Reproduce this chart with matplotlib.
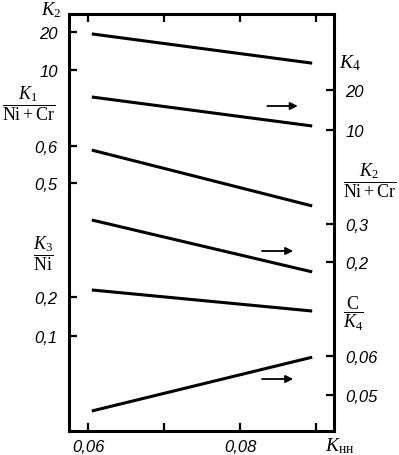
import matplotlib.pyplot as plt

plt.rcParams['mathtext.fontset'] = 'custom'
plt.rcParams['mathtext.rm'] = 'Liberation Serif'
plt.rcParams['mathtext.it'] = 'Liberation Serif:italic'
plt.rcParams['mathtext.bf'] = 'Liberation Serif:bold'

# x axis: K_нн
k_nn = [0.0605, 0.0895]
x_ticks = [0.06, 0.07, 0.08, 0.09]
x_labels = ['0,06', '', '0,08', '']

# left scales
k2 = [19.5, 11.8]
k1_nicr = [0.589, 0.438]
k3_ni = [0.218, 0.164]
# right scales
k4 = [18.25, 11.0]
k2_nicr = [0.3105, 0.174]
c_k4 = [0.0459, 0.0597]

# arrows (x start, x end, y) pointing to right-hand scale
arrow_k4 = [0.0836, 0.0876, 16.0]
arrow_k2_nicr = [0.0829, 0.0870, 0.229]
arrow_c_k4 = [0.0829, 0.0870, 0.0541]

W, H = 399, 456
fig = plt.figure(figsize=(W / 100, H / 100), dpi=100)
pos = [69 / W, 24 / H, 265 / W, 417 / H]
ax = fig.add_axes(pos)

LW = 2.2
tick_font = dict(family='Liberation Sans', style='italic', size=12)

for s in ax.spines.values():
    s.set_linewidth(LW)
ax.set_xlim(0.0575, 0.09237)
ax.set_ylim(0, 1)
ax.set_yticks([])
ax.set_xticks(x_ticks)
ax.set_xticklabels(x_labels, fontdict=tick_font)
ax.tick_params(axis='x', direction='in', length=6, width=1.6, top=True, pad=6)


def scale_axes(side, lim, ticks, labels):
    a = fig.add_axes(pos, sharex=ax)
    a.patch.set_visible(False)
    for s in a.spines.values():
        s.set_visible(False)
    a.tick_params(axis='x', bottom=False, labelbottom=False)
    a.set_ylim(*lim)
    a.set_yticks(ticks)
    a.set_yticklabels(labels, fontdict=tick_font)
    if side == 'right':
        a.yaxis.tick_right()
    a.tick_params(axis='y', direction='in', length=6, width=1.6, pad=8)
    return a


ax_k2 = scale_axes('left', (-85.0, 24.74), [20, 10], ['20', '10'])
ax_k1 = scale_axes('left', (-0.1703, 0.9568), [0.6, 0.5], ['0,6', '0,5'])
ax_k3 = scale_axes('left', (-0.1436, 0.9256), [0.2, 0.1], ['0,2', '0,1'])
ax_k4 = scale_axes('right', (-65.25, 39.0), [20, 10], ['20', '10'])
ax_k2n = scale_axes('right', (-0.2447, 0.8526), [0.3, 0.2], ['0,3', '0,2'])
ax_ck4 = scale_axes('right', (0.04077, 0.1477), [0.06, 0.05], ['0,06', '0,05'])

for a, vals in [(ax_k2, k2), (ax_k1, k1_nicr), (ax_k3, k3_ni),
                (ax_k4, k4), (ax_k2n, k2_nicr), (ax_ck4, c_k4)]:
    a.plot(k_nn, vals, color='black', lw=LW, solid_capstyle='butt')

for a, (x0, x1, y) in [(ax_k4, arrow_k4), (ax_k2n, arrow_k2_nicr), (ax_ck4, arrow_c_k4)]:
    a.annotate('', xy=(x1, y), xytext=(x0, y),
               arrowprops=dict(arrowstyle='-|>', lw=1.3, color='black',
                               mutation_scale=11, shrinkA=0, shrinkB=0))


def ftext(x, y, s, size=13):
    fig.text(x / W, 1 - y / H, s, ha='center', va='center', fontsize=size)


ftext(51, 10, r'$K_2$', 13.5)
ftext(29, 104, r'$\dfrac{K_1}{\mathrm{Ni+Cr}}$')
ftext(43, 254, r'$\dfrac{K_3}{\mathrm{Ni}}$')
ftext(350, 63, r'$K_4$', 14)
ftext(370, 181, r'$\dfrac{K_2}{\mathrm{Ni+Cr}}$')
ftext(353, 314, r'$\dfrac{\mathrm{C}}{K_4}$')
ftext(340, 446, r'$K_{\mathrm{нн}}$', 14)

fig.savefig('out.png', dpi=100)
